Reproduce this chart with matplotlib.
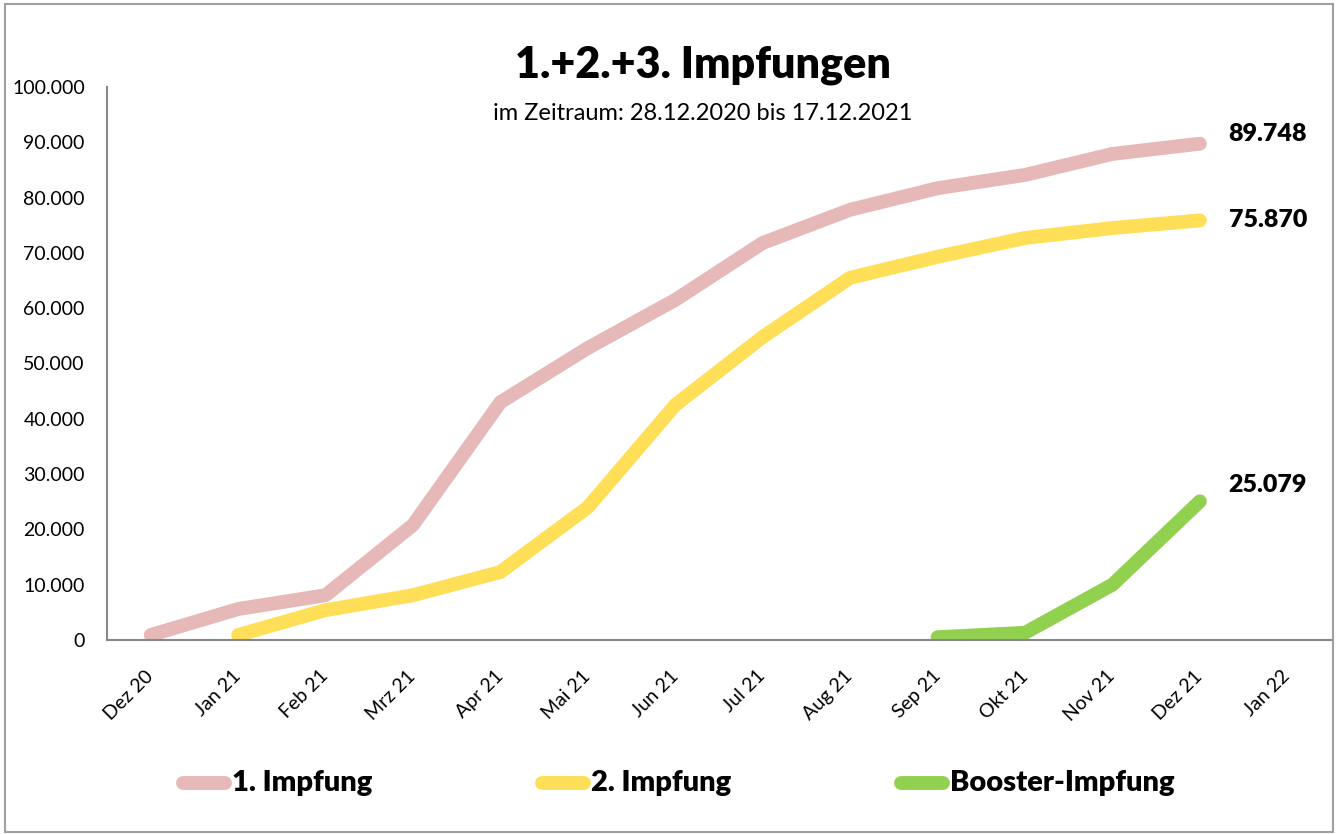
import matplotlib
matplotlib.use("Agg")
import matplotlib.pyplot as plt
from matplotlib.patches import Rectangle
from matplotlib.lines import Line2D
from matplotlib.ticker import FuncFormatter

months = ["Dez 20", "Jan 21", "Feb 21", "Mrz 21", "Apr 21", "Mai 21", "Jun 21",
          "Jul 21", "Aug 21", "Sep 21", "Okt 21", "Nov 21", "Dez 21", "Jan 22"]

erst = [900, 5600, 8100, 20800, 43000, 52800, 61500, 71800, 77800, 81700, 84100, 87900, 89748]
zweit = [900, 5400, 8100, 12300, 24000, 42500, 54800, 65500, 69300, 72700, 74500, 75870]
booster = [500, 1300, 10000, 25079]

labels = ["1. Impfung", "2. Impfung", "Booster-Impfung"]
colors = ["#E6B9B8", "#FFDF57", "#92D050"]

plt.rcParams['font.family'] = ['Lato', 'DejaVu Sans']

fig = plt.figure(figsize=(13.41, 8.34), dpi=100)
ax = fig.add_axes([107/1341, 1-640/834, (1331-107)/1341, (640-87)/834])

x_all = list(range(len(months)))
series = [
    (x_all[0:len(erst)], erst),
    (x_all[1:1+len(zweit)], zweit),
    (x_all[9:9+len(booster)], booster),
]
label_dy = [1800, 0, 3000]
for (xs, ys), lab, col, dy in zip(series, labels, colors, label_dy):
    ax.plot(xs, ys, color=col, lw=10, solid_capstyle='round', solid_joinstyle='round', label=lab)
    ax.text(xs[-1] + 0.33, ys[-1] + dy, f"{ys[-1]:,}".replace(",", "."),
            fontsize=18, fontweight='heavy', ha='left', va='center')

ax.set_xlim(-0.5, len(months) - 0.5)
ax.set_ylim(0, 100000)
ax.set_yticks(range(0, 100001, 10000))
ax.yaxis.set_major_formatter(FuncFormatter(lambda v, p: f"{int(v):,}".replace(",", ".")))
ax.set_xticks(x_all)
ax.set_xticklabels(months, rotation=45, ha='right', va='center', rotation_mode='anchor', fontsize=14)
ax.tick_params(axis='y', length=0, labelsize=14, pad=16)
ax.tick_params(axis='x', length=0, pad=24)
for s in ['top', 'right']:
    ax.spines[s].set_visible(False)
for s in ['left', 'bottom']:
    ax.spines[s].set_color('#888888')
    ax.spines[s].set_linewidth(1.5)

fig.text(703/1341, 1-65/834, "1.+2.+3. Impfungen", ha='center', va='center',
         fontsize=31, fontweight='heavy')
fig.text(703/1341, 1-113/834, "im Zeitraum: 28.12.2020 bis 17.12.2021", ha='center', va='center',
         fontsize=17)

# legend placed manually
leg_y = 1 - 783/834
leg_starts = [183, 542, 901]
for lab, col, x0 in zip(labels, colors, leg_starts):
    fig.add_artist(Line2D([x0/1341, (x0+42)/1341], [leg_y, leg_y], transform=fig.transFigure,
                          color=col, lw=10, solid_capstyle='round'))
    fig.text((x0+49)/1341, leg_y, lab, ha='left', va='center', fontsize=21, fontweight='heavy')

fig.patches.append(Rectangle((5/1341, 2/834), 1328/1341, 828/834, transform=fig.transFigure,
                             fill=False, edgecolor='#A0A0A0', lw=1.5))

fig.savefig("out.png", dpi=100)
